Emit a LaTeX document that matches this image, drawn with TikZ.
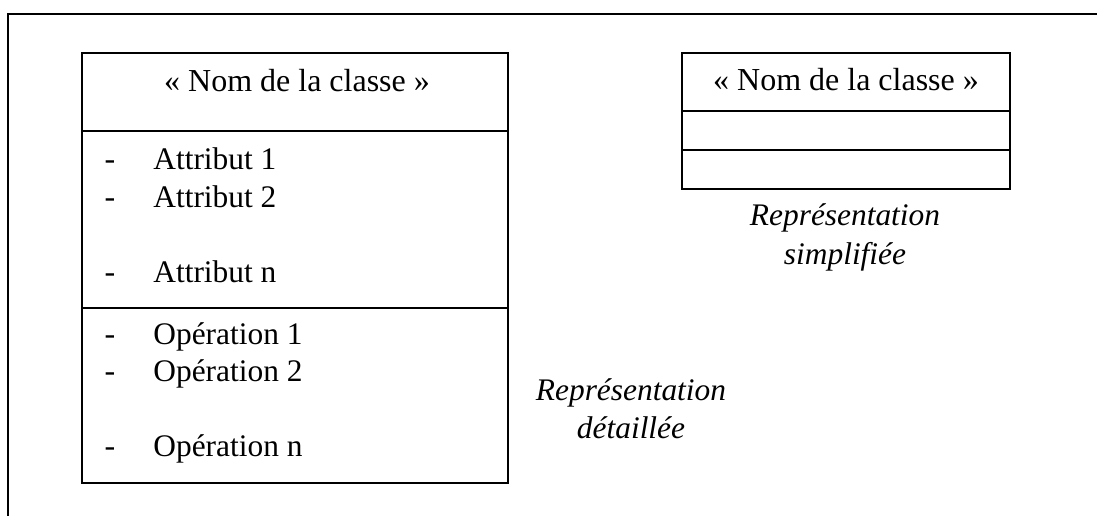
\documentclass[tikz,border=0pt]{standalone}
\usepackage{fontspec}
\setmainfont{Liberation Serif}
\begin{document}
\begin{tikzpicture}[x=0.5pt,y=-0.5pt,
  comp/.style={draw, line width=0.75pt, inner sep=0pt, outer sep=0pt, rectangle},
  lbl/.style={anchor=base, inner sep=0pt, font=\fontsize{16}{19}\selectfont},
  item/.style={anchor=base west, inner sep=0pt, font=\fontsize{15.7}{19}\selectfont},
  captxt/.style={anchor=base, inner sep=0pt, font=\fontsize{15.7}{19}\selectfont\itshape}]
\useasboundingbox (0,0) rectangle (1097,515);
\begin{scope}
\clip (0,0) rectangle (1097,515);
\draw[line width=1pt] (8,14) rectangle (1110,530);
\end{scope}
% detailed class
\node[comp, minimum width=213pt, minimum height=39pt] (dh) at (295,92) {};
\node[comp, minimum width=213pt, minimum height=88.5pt] (da) at (295,219.5) {};
\node[comp, minimum width=213pt, minimum height=87.5pt] (do) at (295,395.5) {};
\node[lbl] (dname) at (297,91) {« Nom de la classe »};
\node[lbl] (a1d) at (110,169) {-};
\node[item] (a1) at (153,169) {Attribut 1};
\node[lbl] (a2d) at (110,207) {-};
\node[item] (a2) at (153,207) {Attribut 2};
\node[lbl] (and) at (110,282) {-};
\node[item] (an) at (153,282) {Attribut n};
\node[lbl] (o1d) at (110,344) {-};
\node[item] (o1) at (153,344) {Opération 1};
\node[lbl] (o2d) at (110,381) {-};
\node[item] (o2) at (153,381) {Opération 2};
\node[lbl] (ond) at (110,456) {-};
\node[item] (on) at (153,456) {Opération n};
% simplified class
\node[comp, minimum width=164pt, minimum height=29pt] (sh) at (846,82) {};
\node[comp, minimum width=164pt, minimum height=19.5pt] (sa) at (846,130.5) {};
\node[comp, minimum width=164pt, minimum height=19.5pt] (so) at (846,169.5) {};
\node[lbl] (sname) at (846,90) {« Nom de la classe »};
% captions
\node[captxt] (c1a) at (845,225) {Représentation};
\node[captxt] (c1b) at (845,264) {simplifiée};
\node[captxt] (c2a) at (631,400) {Représentation};
\node[captxt] (c2b) at (631,438) {détaillée};
\end{tikzpicture}
\end{document}
